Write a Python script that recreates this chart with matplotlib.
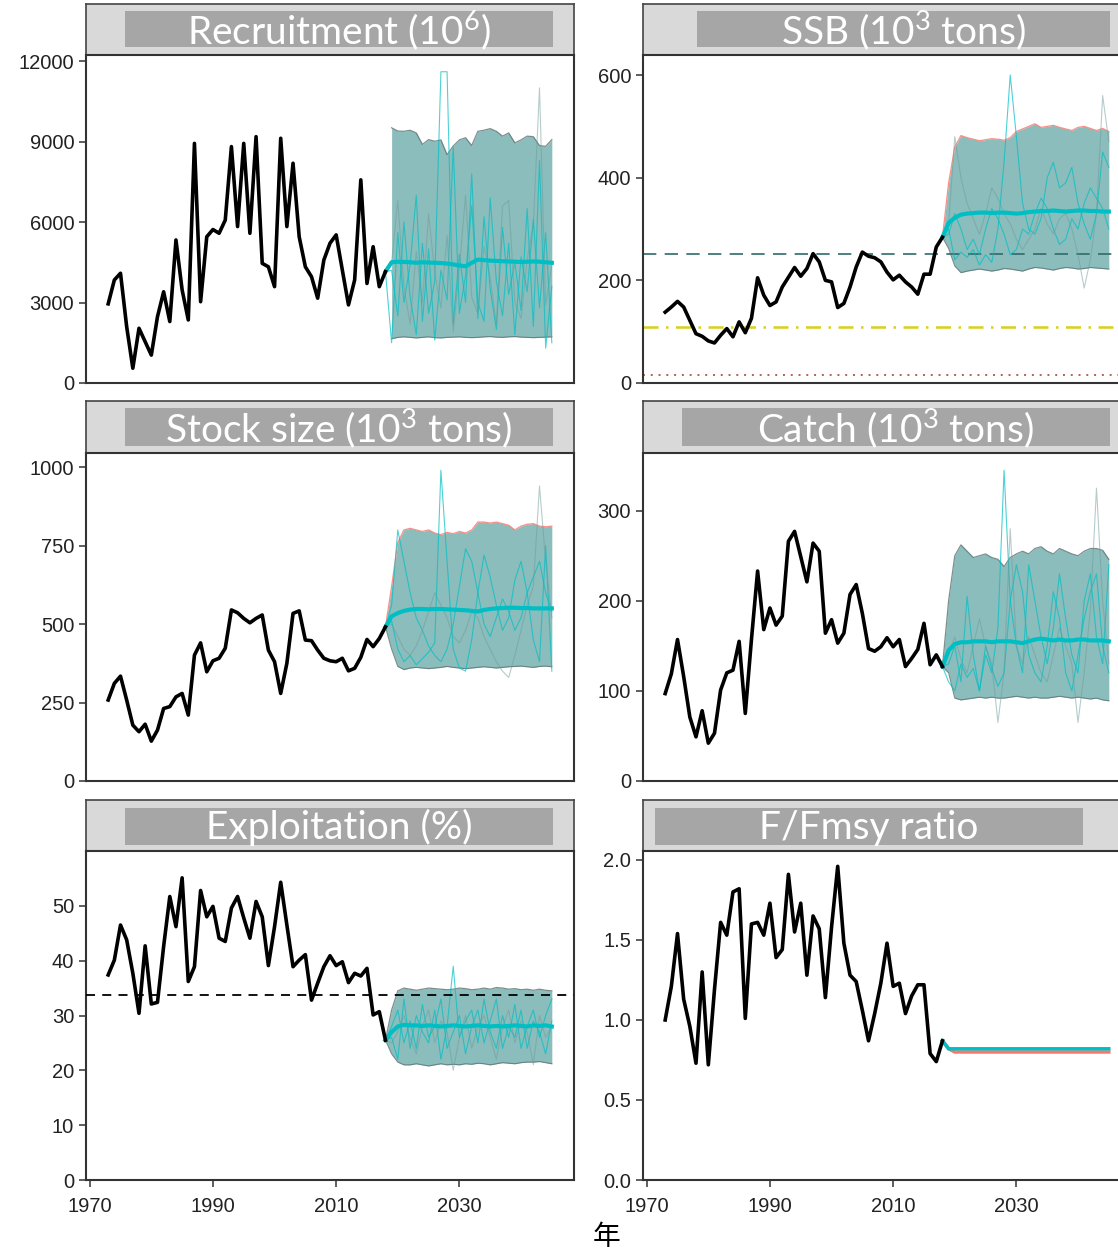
import numpy as np
import matplotlib.pyplot as plt
from matplotlib.patches import Rectangle

plt.rcParams['font.family'] = ['Liberation Sans', 'DejaVu Sans']
plt.rcParams['mathtext.fontset'] = 'custom'
plt.rcParams['mathtext.rm'] = 'Lato'
plt.rcParams['mathtext.it'] = 'Lato'

# ---- data -------------------------------------------------------------
years_hist = np.arange(1973, 2019)
years_proj = np.arange(2019, 2046)

rec_hist = [2950, 3840, 4090, 2100, 550, 2040, 1540, 1040, 2470, 3400, 2290, 5330,
            3470, 2350, 8930, 3030, 5450, 5720, 5580, 6070, 8810, 5830, 8930, 5580,
            9180, 4460, 4330, 3590, 9120, 5830, 8190, 5450, 4330, 3960, 3160, 4580,
            5210, 5520, 4210, 2910, 3840, 7570, 3710, 5080, 3590, 4150]
ssb_hist = [138, 148, 159, 148, 122, 96, 91, 82, 78, 93, 106, 90, 119, 98, 126, 205,
            171, 151, 158, 187, 206, 225, 208, 223, 252, 236, 200, 197, 147, 155, 187,
            226, 255, 247, 244, 236, 216, 201, 210, 197, 187, 173, 212, 212, 265, 284]
stock_hist = [258, 311, 334, 258, 178, 157, 181, 127, 162, 231, 237, 268, 279, 210,
              401, 440, 348, 383, 391, 423, 545, 536, 518, 504, 518, 529, 417, 380,
              279, 375, 534, 542, 449, 447, 417, 391, 383, 380, 391, 351, 359, 394,
              451, 428, 454, 491]
catch_hist = [97, 119, 157, 116, 71, 49, 78, 42, 53, 101, 120, 123, 155, 75, 157, 233,
              168, 192, 173, 183, 266, 277, 249, 221, 264, 255, 164, 179, 153, 164, 207,
              218, 186, 147, 144, 149, 159, 149, 157, 127, 136, 146, 175, 129, 140, 127]
expl_hist = [37.4, 40.1, 46.5, 43.8, 37.7, 30.4, 42.7, 32.1, 32.4, 42.6, 51.7, 46.2,
             55.1, 36.2, 38.9, 52.8, 48.0, 49.9, 44.1, 43.5, 49.6, 51.7, 47.8, 44.1,
             50.8, 48.0, 39.1, 46.2, 54.3, 46.5, 38.9, 40.1, 41.1, 32.8, 35.9, 38.9,
             40.9, 39.1, 39.8, 36.0, 37.7, 37.2, 38.6, 30.1, 30.7, 25.5]
ffmsy_hist = [1.00, 1.21, 1.54, 1.13, 0.96, 0.73, 1.30, 0.72, 1.19, 1.61, 1.53, 1.80,
              1.82, 1.01, 1.60, 1.61, 1.53, 1.73, 1.39, 1.44, 1.91, 1.55, 1.73, 1.28,
              1.65, 1.57, 1.14, 1.58, 1.96, 1.48, 1.28, 1.24, 1.06, 0.87, 1.04, 1.23,
              1.48, 1.21, 1.23, 1.04, 1.15, 1.22, 1.22, 0.79, 0.74, 0.87]

# projections 2019-2045: median, 90% band and a few single simulations
rec_med = [4500, 4520, 4510, 4500, 4480, 4500, 4490, 4480, 4470, 4450, 4420, 4380,
           4350, 4480, 4600, 4580, 4560, 4550, 4540, 4530, 4520, 4510, 4520, 4530,
           4520, 4500, 4480]
rec_lo = [1650, 1700, 1720, 1700, 1680, 1700, 1720, 1690, 1680, 1700, 1710, 1720,
          1700, 1690, 1700, 1720, 1730, 1710, 1700, 1720, 1730, 1710, 1700, 1690,
          1700, 1710, 1720]
rec_hi = [9510, 9390, 9380, 9420, 9320, 8890, 9070, 9010, 9060, 8510, 8830, 9060,
          9140, 8850, 9380, 9420, 9480, 9380, 9200, 9320, 8950, 9060, 9200, 9180,
          8850, 8820, 9070]
rec_sims = [
    [4200, 2500, 6000, 3200, 1800, 5200, 2600, 3800, 11600, 11600, 2200, 4800, 3000,
     7800, 2400, 6200, 3500, 2000, 5800, 3300, 4500, 2700, 6500, 2100, 8300, 1300, 3600],
    [1500, 5600, 3000, 4400, 7000, 2300, 5000, 1600, 4200, 3100, 8800, 2600, 4000,
     6600, 3000, 2300, 6900, 3800, 2500, 5200, 1800, 4700, 3400, 6100, 2800, 5600, 1500],
    [4500, 6800, 3600, 2200, 4900, 3000, 6300, 4100, 2800, 5500, 1900, 4300, 7000,
     3200, 2600, 5100, 3900, 2200, 6600, 6800, 3000, 2400, 4600, 5900, 11000, 2900, 4400],
]

ssb_med = [312, 322, 328, 330, 331, 332, 332, 331, 332, 332, 331, 330, 331, 333, 334,
           335, 335, 336, 335, 334, 335, 336, 336, 335, 335, 334, 334]
ssb_lo = [262, 228, 215, 218, 220, 222, 220, 218, 220, 223, 222, 220, 218, 222, 225,
          224, 222, 220, 223, 225, 224, 222, 223, 225, 224, 223, 222]
ssb_hi = [390, 460, 482, 478, 475, 472, 474, 476, 475, 473, 478, 490, 495, 500, 505,
          498, 500, 502, 498, 495, 492, 498, 500, 496, 492, 496, 490]
ssb_sims = [
    [300, 240, 255, 245, 260, 230, 250, 235, 300, 430, 600, 480, 350, 300, 290, 320,
     400, 430, 380, 390, 420, 350, 310, 280, 330, 450, 420],
    [290, 330, 300, 260, 280, 250, 300, 340, 320, 290, 250, 260, 300, 290, 330, 360,
     340, 300, 270, 280, 320, 300, 350, 380, 360, 340, 300],
    [310, 480, 400, 350, 320, 290, 330, 380, 360, 330, 310, 280, 260, 280, 300, 340,
     310, 290, 320, 330, 300, 250, 185, 240, 330, 560, 470],
]
ssb_refs = [252, 109, 15]

stock_med = [525, 535, 542, 546, 548, 548, 547, 548, 548, 547, 546, 545, 544, 542,
             540, 545, 548, 550, 551, 552, 552, 551, 551, 550, 550, 550, 550]
stock_lo = [420, 365, 355, 360, 362, 360, 358, 360, 362, 365, 362, 360, 358, 360, 362,
            364, 362, 360, 362, 364, 365, 366, 364, 362, 365, 366, 364]
stock_hi = [620, 760, 800, 805, 800, 795, 800, 790, 785, 792, 788, 795, 790, 800, 825,
            825, 822, 825, 820, 815, 800, 812, 818, 820, 812, 810, 812]
stock_sims = [
    [510, 420, 380, 400, 370, 390, 410, 440, 990, 700, 420, 360, 350, 450, 600, 720,
     650, 560, 480, 520, 640, 700, 600, 450, 380, 750, 350],
    [560, 800, 700, 600, 520, 480, 430, 400, 380, 420, 500, 620, 740, 700, 600, 500,
     460, 520, 580, 540, 480, 520, 600, 650, 700, 600, 540],
    [500, 460, 420, 400, 430, 480, 540, 600, 560, 520, 460, 440, 480, 540, 520, 460,
     420, 380, 350, 330, 400, 480, 560, 620, 940, 700, 520],
]

catch_med = [145, 152, 154, 154, 155, 155, 155, 154, 155, 155, 155, 154, 153, 155, 157,
             158, 157, 156, 157, 156, 156, 157, 157, 156, 156, 156, 155]
catch_lo = [120, 92, 90, 91, 92, 93, 92, 93, 92, 92, 93, 94, 93, 92, 93, 92, 92, 93,
            94, 93, 92, 93, 92, 91, 92, 90, 89]
catch_hi = [200, 250, 262, 255, 248, 250, 252, 248, 246, 238, 248, 252, 255, 252, 258,
            260, 255, 252, 258, 255, 252, 250, 255, 258, 258, 256, 246]
catch_sims = [
    [110, 100, 130, 115, 125, 100, 140, 120, 170, 345, 200, 150, 120, 240, 200, 160,
     130, 170, 230, 180, 140, 120, 200, 230, 160, 130, 240],
    [130, 150, 110, 205, 140, 100, 150, 125, 105, 120, 200, 240, 210, 140, 120, 110,
     150, 210, 180, 120, 100, 140, 180, 210, 230, 150, 120],
    [140, 160, 135, 120, 150, 180, 150, 130, 65, 120, 280, 150, 130, 160, 140, 120,
     110, 140, 170, 150, 130, 65, 120, 190, 325, 200, 130],
]

expl_med = [27.0, 28.0, 28.3, 28.2, 28.2, 28.1, 28.2, 28.1, 28.0, 28.1, 28.2, 28.1,
            28.0, 28.1, 28.2, 28.1, 28.0, 28.1, 28.0, 28.1, 28.2, 28.1, 28.0, 28.2,
            28.1, 28.2, 28.0]
expl_lo = [23.0, 21.5, 21.0, 21.0, 21.2, 21.0, 20.8, 21.0, 21.2, 21.0, 21.1, 21.0,
           21.2, 21.1, 21.3, 21.2, 21.0, 21.2, 21.4, 21.3, 21.2, 21.4, 21.5, 21.5,
           21.6, 21.4, 21.2]
expl_hi = [31.0, 34.5, 35.0, 34.8, 34.6, 34.8, 35.0, 34.9, 34.8, 34.7, 34.8, 35.0,
           34.9, 34.7, 34.8, 35.0, 34.8, 35.1, 35.0, 34.8, 34.9, 34.7, 34.8, 34.6,
           34.8, 34.6, 34.5]
expl_sims = [
    [26, 22, 33, 24, 30, 27, 25, 31, 22, 28, 39, 26, 29, 31, 25, 33, 27, 24, 30, 26,
     32, 24, 28, 31, 26, 30, 33],
    [28, 31, 25, 29, 24, 32, 26, 28, 33, 24, 27, 30, 23, 28, 31, 25, 29, 33, 24, 28,
     26, 31, 24, 29, 27, 23, 29],
    [25, 27, 30, 26, 23, 28, 31, 25, 29, 27, 20, 26, 30, 24, 28, 30, 26, 22, 28, 31,
     25, 29, 27, 21, 30, 26, 28],
]
expl_ref = 33.8

ffmsy_cyan = [0.82] * 27
ffmsy_red = [0.82] + [0.80] * 26

titles = ['Recruitment (10$^{6}$)', 'SSB (10$^{3}$ tons)', 'Stock size (10$^{3}$ tons)',
          'Catch (10$^{3}$ tons)', 'Exploitation (%)', 'F/Fmsy ratio']

# ---- style ------------------------------------------------------------
BAND = '#8bbdbc'
EDGE = '#5e7373'
CYAN = '#00BFC4'
RED = '#F8766D'
SIMGRAY = '#6f9a9a'

W, H = 1118, 1251
fig = plt.figure(figsize=(W / 100, H / 100), dpi=100)


def box(x0, y0, x1, y1):
    # pixel box (top-left origin) -> figure fraction rect
    return [x0 / W, 1 - y1 / H, (x1 - x0) / W, (y1 - y0) / H]


cols = [(86, 574), (643, 1131)]
rows = [(4, 55, 383), (401, 453, 781), (800, 851, 1180)]
label_boxes = [(125, 553), (697, 1110), (125, 553), (682, 1110), (125, 553), (655, 1083)]
label_y = [(11, 47), (408, 446), (808, 845)]

panels = [
    dict(hist=rec_hist, med=rec_med, lo=rec_lo, hi=rec_hi, sims=rec_sims,
         ylim=12224, ticks=[0, 3000, 6000, 9000, 12000], join_band=False),
    dict(hist=ssb_hist, med=ssb_med, lo=ssb_lo, hi=ssb_hi, sims=ssb_sims,
         ylim=639, ticks=[0, 200, 400, 600], join_band=True, red_hi=True),
    dict(hist=stock_hist, med=stock_med, lo=stock_lo, hi=stock_hi, sims=stock_sims,
         ylim=1045, ticks=[0, 250, 500, 750, 1000], join_band=True, red_hi=True),
    dict(hist=catch_hist, med=catch_med, lo=catch_lo, hi=catch_hi, sims=catch_sims,
         ylim=364, ticks=[0, 100, 200, 300], join_band=True),
    dict(hist=expl_hist, med=expl_med, lo=expl_lo, hi=expl_hi, sims=expl_sims,
         ylim=60.0, ticks=[0, 10, 20, 30, 40, 50], join_band=True),
    dict(hist=ffmsy_hist, med=None, ylim=2.056, ticks=[0.0, 0.5, 1.0, 1.5, 2.0],
         fmt='{:.1f}'),
]

for i, p in enumerate(panels):
    r, c = divmod(i, 2)
    x0, x1 = cols[c]
    s0, a0, a1 = rows[r]

    # facet strip
    sax = fig.add_axes(box(x0, s0, x1, a0))
    sax.set_facecolor('#d9d9d9')
    sax.set_xticks([])
    sax.set_yticks([])
    for sp in sax.spines.values():
        sp.set_color('#444444')
        sp.set_linewidth(1.2)
    bx0, bx1 = label_boxes[i]
    by0, by1 = label_y[r]
    fig.patches.append(Rectangle((bx0 / W, 1 - by1 / H), (bx1 - bx0) / W, (by1 - by0) / H,
                                 transform=fig.transFigure, facecolor='#a6a6a6',
                                 edgecolor='none', zorder=5))
    fig.text((bx0 + bx1) / 2 / W, 1 - (by0 + by1 + 2) / 2 / H, titles[i], color='white',
             ha='center', va='center', fontsize=28, family='Lato', zorder=6)

    ax = fig.add_axes(box(x0, a0, x1, a1))
    ax.set_xlim(1969.4, 2048.6)
    ax.set_ylim(0, p['ylim'])
    ax.set_yticks(p['ticks'])
    fmt = p.get('fmt', '{:d}')
    ax.set_yticklabels([fmt.format(t) for t in p['ticks']])
    ax.set_xticks([1970, 1990, 2010, 2030])
    if r < 2:
        ax.tick_params(axis='x', bottom=False, labelbottom=False)
    ax.tick_params(length=5, width=1.1, color='#333333', labelsize=14.5,
                   labelcolor='#222222')
    ax.tick_params(axis='x', pad=7)
    for sp in ax.spines.values():
        sp.set_color('#333333')
        sp.set_linewidth(1.5)

    hist = p['hist']
    if p['med'] is not None:
        last = hist[-1]
        if p['join_band']:
            by = np.r_[2018, years_proj]
            lo = np.r_[last, p['lo']]
            hi = np.r_[last, p['hi']]
        else:
            by, lo, hi = years_proj, np.array(p['lo']), np.array(p['hi'])
        ax.fill_between(by, lo, hi, color=BAND, lw=0, zorder=1)
        ax.plot(by, lo, color=EDGE, lw=0.8, alpha=0.8, zorder=2)
        ax.plot(by, hi, color=RED if p.get('red_hi') else EDGE, lw=0.9, alpha=0.8, zorder=2)
        sy = np.r_[2018, years_proj]
        for k, sim in enumerate(p['sims']):
            col = SIMGRAY if k == 2 else CYAN
            ax.plot(sy, np.r_[last, sim], color=col, lw=0.8, alpha=0.7 if k < 2 else 0.5,
                    zorder=3)
        ax.plot(sy, np.r_[last, p['med']], color=CYAN, lw=3, zorder=4)
    else:
        sy = np.r_[2018, years_proj]
        ax.plot(sy, np.r_[hist[-1], ffmsy_red], color=RED, lw=2.5, zorder=3)
        ax.plot(sy, np.r_[hist[-1], ffmsy_cyan], color=CYAN, lw=2.5, zorder=4)
    ax.plot(years_hist, hist, color='black', lw=2.6, zorder=5)

    if i == 1:
        ax.axhline(ssb_refs[0], color='#2f6b6b', lw=1.2, ls=(0, (8, 5)), zorder=2.5)
        ax.axhline(ssb_refs[1], color='#d8d01a', lw=1.8, ls=(0, (6, 3, 1, 3)), zorder=2.5)
        ax.axhline(ssb_refs[2], color='#b0605a', lw=1.4, ls=(0, (1, 3)), zorder=2.5)
    if i == 4:
        ax.axhline(expl_ref, color='black', lw=1.3, ls=(0, (5, 4)), zorder=6)

fig.text(607 / W, 1 - 1237 / H, '年', family=['Noto Sans CJK JP', 'DejaVu Sans'],
         fontsize=20, ha='center', va='center')

fig.savefig('out.png', dpi=100)
